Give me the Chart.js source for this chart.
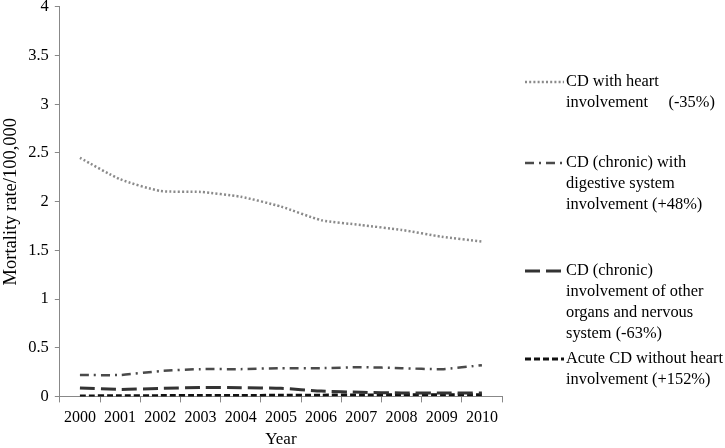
<!DOCTYPE html>
<html>
<head>
<meta charset="utf-8">
<script src="https://cdn.jsdelivr.net/npm/chart.js@4"></script>
<style>
  html, body { margin: 0; padding: 0; background: #fff; overflow: hidden; }
  #wrap { width: 725px; height: 448px; overflow: hidden; }
  #Diagram1 { display: block; margin-top: -9px; }
</style>
</head>
<body>
<div id="wrap"><canvas id="Diagram1" width="725" height="459"></canvas></div>
<script>
var years = ['2000','2001','2002','2003','2004','2005','2006','2007','2008','2009','2010'];
var heart = [2.45, 2.23, 2.11, 2.10, 2.05, 1.95, 1.81, 1.76, 1.71, 1.64, 1.59];
var digestive = [0.22, 0.22, 0.26, 0.28, 0.28, 0.29, 0.29, 0.30, 0.29, 0.28, 0.32];
var otherOrgans = [0.087, 0.072, 0.082, 0.092, 0.090, 0.083, 0.055, 0.042, 0.036, 0.035, 0.034];
var acute = [0.005, 0.006, 0.008, 0.010, 0.010, 0.011, 0.013, 0.015, 0.016, 0.016, 0.016];
var yTicks = [0, 0.5, 1, 1.5, 2, 2.5, 3, 3.5, 4];

// legend text, one array of lines per series
var legendLines = [
    ['CD with heart', 'involvement     (-35%)'],
    ['CD (chronic) with', 'digestive system', 'involvement (+48%)'],
    ['CD (chronic)', 'involvement of other', 'organs and nervous', 'system (-63%)'],
    ['Acute CD without heart', 'involvement (+152%)']
];
var legendTop = [82, 163, 271, 359];
var shift = 9; // canvas is moved up by this much

var serif = '"Liberation Serif", "DejaVu Serif", serif';
Chart.defaults.font.family = serif;
Chart.defaults.color = '#000';

// draws the multi-line legend on the right
var sideLegend = {
    id: 'sideLegend',
    afterDraw: function(chart) {
        var ctx = chart.ctx;
        var sets = chart.data.datasets;
        ctx.save();
        ctx.font = '16.4px ' + serif;
        ctx.textBaseline = 'middle';
        ctx.fillStyle = '#000';
        for (var i = 0; i < sets.length; i++) {
            var y = legendTop[i] + shift;
            ctx.beginPath();
            ctx.strokeStyle = sets[i].borderColor;
            ctx.lineWidth = sets[i].borderWidth;
            ctx.setLineDash(sets[i].borderDash);
            ctx.moveTo(525, y);
            ctx.lineTo(564, y);
            ctx.stroke();
            ctx.setLineDash([]);
            for (var j = 0; j < legendLines[i].length; j++) {
                ctx.fillText(legendLines[i][j], 566, y + j * 21);
            }
        }
        ctx.restore();
    }
};

var LineChart1 = new Chart(document.getElementById('Diagram1').getContext('2d'), {
    type: 'line',
    data: {
        labels: years,
        datasets: [
        {
            label: 'CD with heart involvement (-35%)',
            data: heart,
            borderColor: '#8a8a8a',
            borderWidth: 2.5,
            borderDash: [2, 2.2],
        },
        {
            label: 'CD (chronic) with digestive system involvement (+48%)',
            data: digestive,
            borderColor: '#4a4a4a',
            borderWidth: 2.5,
            borderDash: [9, 5, 2, 5],
        },
        {
            label: 'CD (chronic) involvement of other organs and nervous system (-63%)',
            data: otherOrgans,
            borderColor: '#333',
            borderWidth: 3,
            borderDash: [15, 6],
        },
        {
            label: 'Acute CD without heart involvement (+152%)',
            data: acute,
            borderColor: '#111',
            borderWidth: 3,
            borderDash: [6, 3],
        }]
    },
    options: {
        responsive: false,
        animation: false,
        layout: { padding: { top: 0, right: 223, left: 0, bottom: 0 } },
        elements: { point: { radius: 0 }, line: { tension: 0.2, borderCapStyle: 'butt' } },
        plugins: {
            legend: { display: false },
            tooltip: { enabled: false }
        },
        scales: {
            x: {
                offset: true,
                grid: { offset: true, drawOnChartArea: false, color: '#888', tickLength: 6 },
                border: { color: '#888', width: 1 },
                ticks: { font: { size: 16 }, maxRotation: 0, padding: 6 },
                title: { display: true, text: 'Year', font: { size: 17 }, padding: { top: -4, bottom: 0 } }
            },
            y: {
                min: 0,
                max: 4,
                afterBuildTicks: function(axis) {
                    axis.ticks = yTicks.map(function(v) { return { value: v }; });
                },
                grid: { drawOnChartArea: false, color: '#888', tickLength: 5 },
                border: { color: '#888', width: 1 },
                ticks: {
                    font: { size: 16.5 },
                    padding: 6,
                    callback: function(v) { return String(v); }
                },
                title: { display: true, text: 'Mortality rate/100,000', font: { size: 18.5 }, padding: { top: 0, bottom: 0 } }
            }
        }
    },
    plugins: [sideLegend]
});
</script>
</body>
</html>
